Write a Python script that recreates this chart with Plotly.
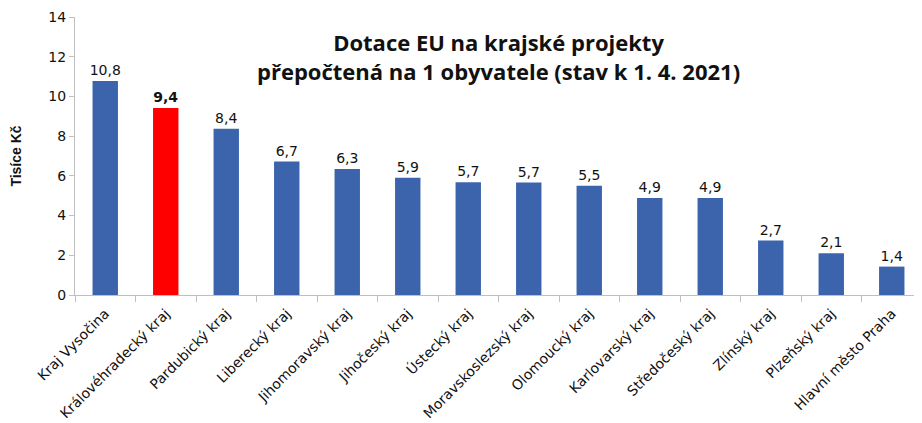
import plotly.graph_objects as go

categories = ["Kraj Vysočina", "Královéhradecký kraj", "Pardubický kraj", "Liberecký kraj",
              "Jihomoravský kraj", "Jihočeský kraj", "Ústecký kraj", "Moravskoslezský kraj",
              "Olomoucký kraj", "Karlovarský kraj", "Středočeský kraj", "Zlínský kraj",
              "Plzeňský kraj", "Hlavní město Praha"]
values = [10.78, 9.42, 8.37, 6.72, 6.34, 5.9, 5.68, 5.66, 5.5, 4.89, 4.88, 2.74, 2.1, 1.43]
highlight = "Královéhradecký kraj"
y_ticks = [0, 2, 4, 6, 8, 10, 12, 14]

blue = "#3C64AD"
red = "#FF0000"
colors = [red if c == highlight else blue for c in categories]
texts = []
for c, v in zip(categories, values):
    s = f"{v:.1f}".replace(".", ",")
    texts.append(f"<b>{s}</b>" if c == highlight else s)

font_ticks = "'DejaVu Sans', sans-serif"

fig = go.Figure(go.Bar(
    x=categories, y=values, marker_color=colors, marker_line_width=0,
    text=texts, textposition="outside", cliponaxis=False, constraintext="none",
    textfont=dict(size=14, color="#111", family=font_ticks),
))

fig.update_layout(
    width=914, height=415,
    margin=dict(l=67, r=0, t=9, b=128, autoexpand=False),
    plot_bgcolor="white", paper_bgcolor="white",
    bargap=0.58, showlegend=False,
    separators=", ",
    font=dict(family=font_ticks, color="#111"),
    annotations=[dict(
        text="<b>Dotace EU na krajské projekty<br>přepočtená na 1 obyvatele (stav k 1. 4. 2021)</b>",
        x=0.5, y=1.0, xref="paper", yref="paper", xanchor="center", yanchor="top",
        yshift=-8, showarrow=False, align="center",
        font=dict(size=22, family="'Open Sans', sans-serif", color="#111"),
    )],
)
fig.update_xaxes(
    automargin=False,
    showline=True, linecolor="#bfbfbf", linewidth=1,
    ticks="outside", tickson="boundaries", ticklen=6, tickcolor="#bfbfbf",
    tickangle=-45, tickfont=dict(size=14, family=font_ticks, color="#111"),
    ticklabelstandoff=4,
    showgrid=False,
)
fig.update_yaxes(
    automargin=False,
    range=[0, 14], tickvals=y_ticks, showline=True, linecolor="#bfbfbf", linewidth=1,
    ticks="outside", ticklen=5, tickcolor="#bfbfbf", showgrid=False, zeroline=False,
    tickfont=dict(size=14, family=font_ticks, color="#111"),
    title=dict(text="<b>Tisíce Kč</b>", font=dict(size=14, family="'Liberation Sans', Arial, sans-serif"), standoff=34),
)

fig.write_html("out.html")
